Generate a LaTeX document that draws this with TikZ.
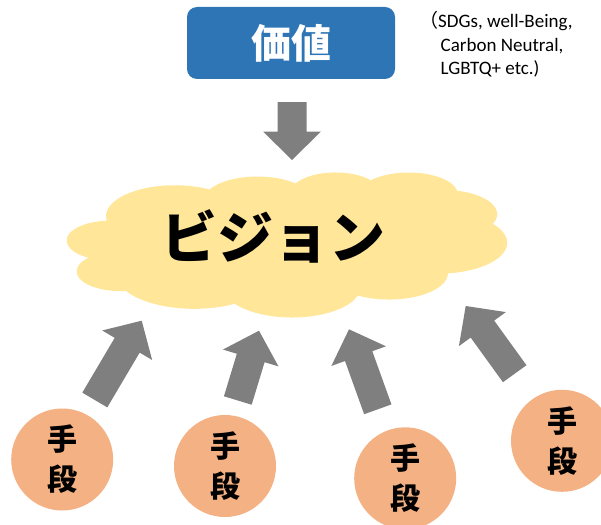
\documentclass[tikz,border=0pt]{standalone}
\usepackage{fontspec}
\setmainfont{Carlito}
\newfontfamily\jp{Noto Sans CJK JP}
\usetikzlibrary{calc}
\definecolor{boxblue}{HTML}{2E75B6}
\definecolor{cloudfill}{HTML}{FFE699}
\definecolor{arrowgray}{HTML}{7F7F7F}
\definecolor{meansfill}{HTML}{F4B183}
\newcommand\blockarrow[3]{% #1 tail, #2 tip, #3 name prefix
  \coordinate (#3hb) at ($(#2)!28.5pt!(#1)$);
  \fill[arrowgray]
    ($(#1)!14.5pt!90:(#2)$) --
    ($(#3hb)!14.5pt!90:(#2)$) --
    ($(#3hb)!29pt!90:(#2)$) --
    (#2) --
    ($(#3hb)!29pt!-90:(#2)$) --
    ($(#3hb)!14.5pt!-90:(#2)$) --
    ($(#1)!14.5pt!-90:(#2)$) -- cycle;
}
\begin{document}
\begin{tikzpicture}[x=1pt,y=-1pt,
  valbox/.style={rectangle, rounded corners=10pt, fill=boxblue, minimum width=208pt,
    minimum height=72pt, inner sep=0pt, text=white, font=\jp\bfseries\fontsize{40}{48}\selectfont},
  means/.style={circle, fill=meansfill, minimum size=102pt, inner sep=0pt, align=center,
    font=\jp\bfseries\fontsize{30}{40}\selectfont},
  note/.style={anchor=base west, inner sep=0pt, font=\fontsize{19}{23}\selectfont},
  visiontext/.style={inner sep=0pt, font=\jp\bfseries\fontsize{56}{60}\selectfont}]
\useasboundingbox (0,0) rectangle (601,524);

% value box
\node[valbox] (val) at (291,43) {価値};
\node[note] (n1) at (419,28) {{\jp （}SDGs, well-Being,};
\node[note] (n2) at (440.5,51.5) {Carbon Neutral,};
\node[note] (n3) at (440.5,74.5) {LGBTQ+ etc.)};

% cloud (PowerPoint cloud geometry)
\def\cloudpath{}
\foreach \rx/\ry/\st/\sw in {
  67.53/91.90/-190.4875/123.7805,
  53.33/72.67/-144.1024/89.9452,
  43.65/59.45/-145.8079/99.7230,
  48.57/65.95/-130.9861/117.2417,
  53.33/72.73/-78.7089/109.0269,
  67.75/92.20/-46.2673/130.2690,
  57.85/78.67/0.6250/114.0333,
  67.52/92.15/22.4516/115.1726,
  77.20/105.43/66.2426/75.7110,
  43.60/59.18/-274.9421/146.7356,
  43.45/59.45/-246.8285/152.5189}{
  \pgfmathsetmacro\ta{atan2(\rx*sin(\st),\ry*cos(\st))}
  \pgfmathsetmacro\tb{atan2(\rx*sin(\st+\sw),\ry*cos(\st+\sw))}
  \pgfmathsetmacro\dd{mod(\tb-\ta+720,360)}
  \xdef\cloudpath{\cloudpath arc[start angle=\ta, delta angle=\dd, x radius=\rx, y radius=\ry]}
}
\begin{scope}[shift={(67,172)}, x=1pt, y=1pt, xscale=1.0185, yscale=-0.3356]
  \fill[cloudfill] (39,143.7) \cloudpath -- cycle;
\end{scope}
\node[visiontext] (vis) at (273,236) {ビジョン};

% means
\node[means] (m1) at (62.2,459.5) {手\\段};
\node[means] (m2) at (225,466) {手\\段};
\node[means] (m3) at (405.2,478.3) {手\\段};
\node[means] (m4) at (562,440.8) {手\\段};

% arrows
\coordinate (d0) at (292,102);
\coordinate (d1) at (292,160);
\blockarrow{d0}{d1}{da}
\coordinate (a1t) at (94.8,400);
\coordinate (a1h) at (141.7,320.7);
\blockarrow{a1t}{a1h}{aa}
\coordinate (a2t) at (237.8,400.5);
\coordinate (a2h) at (259,330.7);
\blockarrow{a2t}{a2h}{ab}
\coordinate (a3t) at (377.8,409.3);
\coordinate (a3h) at (349,329.3);
\blockarrow{a3t}{a3h}{ac}
\coordinate (a4t) at (514.7,373.7);
\coordinate (a4h) at (465.7,306);
\blockarrow{a4t}{a4h}{ad}
\end{tikzpicture}
\end{document}
